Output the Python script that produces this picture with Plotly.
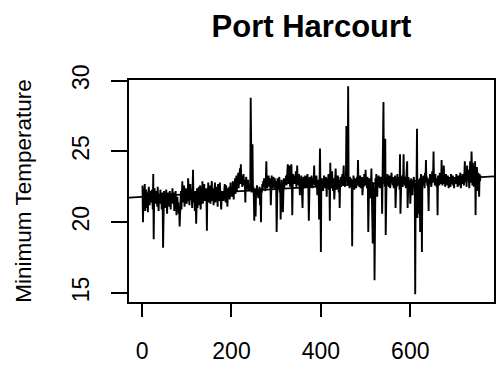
import numpy as np
import plotly.graph_objects as go

# Daily minimum temperature series, Port Harcourt (degrees C), in observation order
min_temp = [
    22.6, 20.0, 21.5, 22.4, 21.1, 22.7, 20.8, 21.6, 22.3, 21.4, 21.0, 22.1, 20.7, 21.8, 22.5, 21.9, 21.2, 22.0, 21.6, 22.2,
    21.4, 22.3, 21.8, 20.9, 23.4, 18.8, 21.7, 22.4, 21.5, 22.0, 21.3, 22.2, 21.9, 21.1, 22.5, 21.6, 20.8, 22.0, 21.7, 21.3,
    22.3, 21.5, 21.9, 20.9, 22.1, 21.6, 18.2, 21.4, 22.2, 21.8, 21.0, 22.0, 21.5, 22.3, 21.2, 20.6, 21.8, 22.1, 21.4, 21.9,
    21.1, 22.2, 21.7, 20.9, 22.0, 21.5, 21.8, 22.4, 21.3, 21.6, 22.1, 20.8, 21.9, 21.4, 22.2, 21.7, 20.5, 21.2, 21.8, 20.9,
    21.4, 20.6, 21.0, 19.7, 20.3, 21.5, 22.2, 20.9, 21.8, 22.9, 21.4, 22.3, 21.7, 22.6, 21.1, 22.0, 21.6, 22.4, 21.9, 21.3,
    22.2, 21.5, 23.1, 21.8, 22.4, 21.2, 22.0, 22.7, 21.6, 21.9, 22.3, 21.0, 22.5, 23.7, 21.4, 22.1, 21.7, 20.8, 22.2, 21.5,
    19.9, 21.3, 22.4, 21.0, 22.0, 21.6, 22.5, 21.2, 21.8, 22.6, 20.9, 21.4, 22.2, 21.7, 22.9, 21.3, 22.1, 21.8, 22.7, 21.5,
    22.0, 21.6, 22.4, 21.9, 19.4, 22.2, 21.7, 22.8, 21.4, 22.1, 21.9, 22.6, 21.3, 22.3, 21.8, 22.9, 21.5, 22.0, 22.4, 21.2,
    22.2, 21.7, 22.8, 21.4, 22.0, 22.5, 21.6, 22.3, 21.1, 22.7, 21.9, 22.1, 21.5, 22.8, 21.8, 22.4, 20.9, 21.7, 22.2, 21.6,
    22.0, 21.5, 22.3, 21.8, 22.7, 22.1, 21.4, 22.6, 21.9, 22.2, 21.1, 22.4, 21.7, 22.0, 22.5, 21.6, 22.2, 22.8, 21.8, 22.3,
    22.4, 21.8, 22.9, 22.2, 21.6, 22.7, 22.3, 23.1, 22.0, 22.6, 23.3, 22.2, 22.9, 22.5, 23.5, 22.4, 23.0, 22.6, 23.8, 22.7,
    24.1, 22.8, 23.3, 22.5, 23.1, 22.9, 23.4, 22.6, 23.0, 22.7, 21.4, 22.9, 23.2, 22.5, 22.8, 22.3, 23.0, 22.4, 22.6, 22.2,
    22.5, 22.3, 28.8, 22.4, 22.1, 22.6, 25.5, 22.2, 22.5, 21.8, 20.1, 22.4, 22.0, 20.4, 22.3, 21.9, 22.6, 22.1, 22.4, 21.7,
    22.3, 22.0, 22.5, 21.2, 22.2, 20.0, 22.4, 22.1, 22.7, 22.3, 22.9, 22.5, 23.1, 22.6, 22.8, 22.2, 23.2, 24.3, 22.7, 22.4,
    23.0, 22.6, 23.3, 22.8, 22.5, 23.1, 22.7, 21.2, 22.9, 23.3, 22.6, 23.0, 22.4, 23.2, 22.8, 22.5, 23.1, 22.3, 22.9, 22.7,
    19.3, 22.8, 23.1, 22.4, 22.9, 22.6, 23.2, 22.1, 22.7, 20.2, 22.5, 23.0, 22.3, 22.8, 20.7, 22.6, 23.1, 22.4, 23.0, 22.7,
    22.9, 23.3, 22.6, 23.1, 22.8, 24.1, 22.7, 23.2, 22.9, 24.0, 22.5, 23.3, 22.8, 24.1, 23.0, 20.5, 22.6, 23.4, 22.9, 23.1,
    22.7, 23.3, 22.8, 23.6, 22.5, 23.0, 24.0, 22.9, 23.2, 22.6, 23.4, 22.8, 21.9, 23.1, 22.7, 23.3, 22.5, 23.0, 21.0, 22.8,
    23.2, 22.6, 23.0, 22.4, 23.3, 22.9, 22.5, 23.1, 22.7, 23.4, 22.8, 22.3, 20.1, 22.9, 23.2, 22.6, 23.0, 22.5, 23.3, 22.8,
    22.4, 23.1, 22.7, 23.0, 24.0, 22.6, 23.2, 22.9, 22.5, 23.3, 22.8, 21.9, 23.0, 22.6, 22.9, 20.2, 22.7, 25.2, 22.4, 17.9,
    22.8, 23.1, 22.5, 23.0, 22.2, 22.9, 23.3, 22.6, 23.0, 22.4, 23.2, 22.7, 21.8, 23.1, 22.5, 22.9, 23.4, 22.3, 22.8, 20.1,
    24.2, 22.6, 23.0, 22.4, 23.6, 22.8, 22.2, 23.1, 22.7, 21.6, 23.2, 22.5, 23.8, 22.9, 22.3, 23.0, 22.6, 23.3, 22.8, 22.1,
    23.0, 21.0, 22.7, 23.2, 22.5, 23.0, 22.8, 23.4, 22.6, 23.1, 24.0, 22.7, 23.0, 22.5, 23.3, 22.9, 26.8, 23.1, 22.6, 23.2,
    29.6, 22.8, 23.0, 22.4, 23.2, 22.7, 23.1, 22.5, 22.9, 18.3, 23.0, 22.6, 23.3, 22.8, 22.3, 23.1, 22.7, 23.0, 22.4, 22.9,
    23.2, 22.6, 24.4, 22.8, 23.1, 22.5, 22.9, 23.3, 22.4, 23.0, 22.7, 23.2, 21.9, 22.8, 23.1, 22.5, 23.4, 22.9, 22.6, 23.7,
    22.8, 23.0, 22.4, 23.2, 22.7, 19.3, 22.9, 23.1, 22.5, 21.7, 23.0, 22.6, 23.8, 22.3, 21.2, 18.5, 22.8, 21.9, 22.4, 15.9,
    22.6, 23.1, 22.4, 23.4, 22.8, 21.8, 23.0, 22.5, 23.3, 22.7, 23.1, 22.4, 22.9, 23.2, 22.6, 23.0, 20.6, 22.8, 23.3, 28.5,
    22.9, 23.2, 22.5, 25.9, 19.1, 22.7, 23.1, 22.6, 23.4, 22.8, 23.0, 22.5, 23.3, 22.9, 22.4, 23.1, 22.7, 23.5, 22.8, 23.0,
    22.6, 23.2, 22.4, 23.0, 22.8, 23.3, 21.0, 22.9, 23.1, 22.5, 23.4, 22.7, 23.0, 22.6, 23.2, 22.3, 24.8, 20.6, 22.9, 23.1,
    22.7, 23.3, 22.5, 23.0, 24.8, 22.8, 23.2, 22.6, 23.0, 22.4, 23.1, 22.7, 24.3, 21.0, 22.9, 23.2, 22.5, 23.0, 22.7, 21.3,
    22.8, 23.1, 22.5, 22.9, 21.9, 23.0, 22.6, 23.2, 22.4, 22.8, 14.9, 22.6, 20.4, 22.9, 26.6, 20.3, 23.0, 21.2, 22.7, 20.6,
    23.1, 19.3, 22.8, 23.4, 22.5, 17.9, 23.0, 22.7, 23.3, 22.6, 23.1, 22.4, 23.5, 22.8, 24.4, 22.9, 23.2, 22.6, 23.0, 22.3,
    20.8, 23.1, 22.7, 23.4, 22.9, 23.2, 22.5, 23.0, 23.6, 22.8, 23.3, 25.0, 22.9, 23.2, 22.6, 23.4, 22.8, 23.1, 22.5, 23.0,
    20.5, 23.3, 22.9, 23.1, 22.6, 23.5, 22.8, 23.2, 22.7, 24.4, 23.0, 22.6, 23.3, 22.9, 24.0, 22.7, 23.2, 22.5, 23.0, 23.4,
    22.8, 23.1, 22.6, 23.3, 22.9, 22.4, 23.2, 22.8, 23.0, 22.5, 23.4, 22.9, 23.1, 22.7, 23.3, 22.6, 23.0, 22.4, 23.2, 22.8,
    23.1, 22.7, 23.4, 22.9, 23.2, 22.5, 23.0, 23.3, 22.6, 23.1, 22.8, 23.5, 22.4, 23.0, 23.2, 22.7, 23.4, 22.9, 23.1, 22.6,
    23.3, 24.3, 22.8, 23.6, 23.1, 22.5, 24.0, 23.2, 22.9, 23.7, 23.0, 22.4, 23.5, 24.3, 22.8, 23.3, 25.0, 23.1, 22.6, 24.2,
    23.0, 22.5, 23.6, 23.2, 24.3, 20.5, 23.4, 22.8, 23.9, 23.1, 22.2, 23.5, 23.0, 21.8, 23.4, 22.9, 23.3,
]

x_ticks = [0, 200, 400, 600]
y_ticks = [15, 20, 25, 30]

FONT = "Liberation Sans, Arial, sans-serif"

y = np.array(min_temp)
n = len(y)
x = np.arange(1, n + 1)

# base-R style axis extent: data range padded by 4% on each side
x_pad = 0.04 * (n - 1)
x_range = [1 - x_pad, n + x_pad]
y_range = [14.36, 30.05]

# least-squares trend line across the full plotting region
slope, intercept = np.polyfit(x, y, 1)
trend_x = np.array(x_range)
trend_y = intercept + slope * trend_x

fig = go.Figure()
fig.add_trace(go.Scatter(
    x=x, y=y, mode="lines",
    line=dict(color="black", width=1.9),
    hoverinfo="skip", showlegend=False,
))
fig.add_trace(go.Scatter(
    x=trend_x, y=trend_y, mode="lines",
    line=dict(color="black", width=1.7),
    hoverinfo="skip", showlegend=False,
))

fig.update_layout(
    width=501, height=369,
    margin=dict(l=129, r=5, t=80, b=57),
    paper_bgcolor="white", plot_bgcolor="white",
    font=dict(family=FONT, color="black"),
    title=dict(
        text="<b>Port Harcourt</b>",
        font=dict(family=FONT, size=31, color="black"),
        x=0.5, xref="paper", xanchor="center",
        y=1 - 26 / 369, yref="container", yanchor="middle",
    ),
)

fig.update_xaxes(
    range=x_range, showgrid=False, zeroline=False,
    showline=True, linecolor="black", linewidth=2, mirror=True,
    ticks="outside", ticklen=13, tickwidth=1.8, tickcolor="black",
    tickvals=x_ticks, ticktext=[str(v) for v in x_ticks],
    tickfont=dict(family=FONT, size=23, color="black"),
    ticklabelstandoff=14,
)
fig.update_yaxes(
    range=y_range, showgrid=False, zeroline=False,
    showline=True, linecolor="black", linewidth=2, mirror=True,
    ticks="outside", ticklen=16, tickwidth=1.8, tickcolor="black",
    tickvals=y_ticks, ticktext=[str(v) for v in y_ticks],
    tickangle=-90,
    tickfont=dict(family=FONT, size=23, color="black"),
    ticklabelstandoff=13,
    title=dict(text="Minimum Temperature",
               font=dict(family=FONT, size=22.5, color="black"),
               standoff=30),
)

fig.write_html("out.html")
